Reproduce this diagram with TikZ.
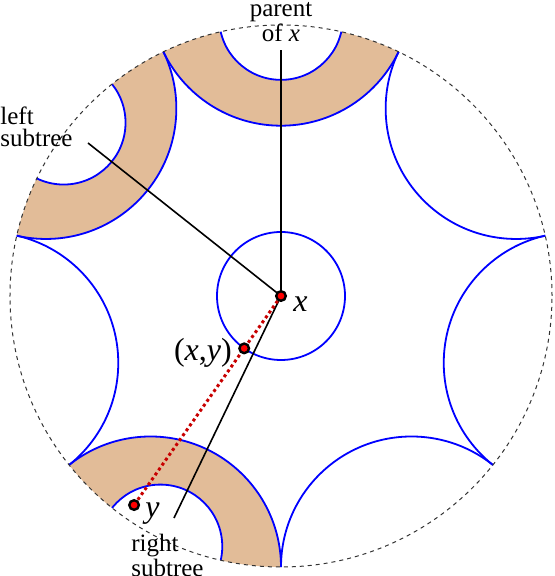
\documentclass[tikz,border=0pt]{standalone}
\usepackage{fontspec}
\setmainfont{Liberation Serif}
\usetikzlibrary{positioning}
\definecolor{band}{RGB}{226,188,152}
\definecolor{dotred}{RGB}{200,0,0}
\newcommand{\diskR}{271}
\begin{document}
\begin{tikzpicture}[x=0.5pt,y=0.5pt,
  geo/.style={blue,line width=0.9pt},
  pt/.style={circle,draw,fill=red,line width=1.2pt,inner sep=0pt,minimum size=4.8pt},
  lbl/.style={font=\fontsize{12.5}{11}\selectfont,align=left,inner sep=0pt},
  mlbl/.style={font=\fontsize{16}{18}\selectfont,inner sep=0pt}]
\useasboundingbox (-281,-280) rectangle (273,296);
% bands and geodesics of the heptagon
\begin{scope}
\clip (0,0) circle (\diskR);
\foreach \a in {90,141.43,244.29}
  \fill[band,even odd rule] (\a:{\diskR/cos(25.714)}) circle ({\diskR*tan(25.714)})
    (\a:{\diskR/cos(12.857)}) circle ({\diskR*tan(12.857)});
\foreach \k in {0,...,6}
  \draw[geo] ({90+51.4286*\k}:{\diskR/cos(25.714)}) circle ({\diskR*tan(25.714)});
\foreach \a in {90,141.43,244.29}
  \draw[geo] (\a:{\diskR/cos(12.857)}) circle ({\diskR*tan(12.857)});
\end{scope}
\draw[geo] (0,0) circle (64);
\draw[black!80,line width=0.5pt,dash pattern=on 2pt off 2pt] (0,0) circle (\diskR);
% points and pointers
\coordinate (xc) at (0,0);
\coordinate (yc) at (234.9:255.5);
\coordinate (xyc) at (234.9:64);
\coordinate (pe) at (0,246);
\coordinate (le) at (-193,153);
\coordinate (re) at (-107,-222);
\draw[line width=0.8pt] (xc)--(pe);\draw[line width=0.8pt] (xc)--(le);\draw[line width=0.8pt] (xc)--(re);
\draw[dotred,line width=1.5pt,dash pattern=on 1.5pt off 1.5pt] (xc)--(yc);
\node[pt] (x) at (xc) {};
\node[pt] (xy) at (xyc) {};
\node[pt] (y) at (yc) {};
\node[mlbl,anchor=base west] (xl) at ([shift={(12,-16)}]x.center) {\textit{x}};
\node[mlbl,anchor=base east] (xyl) at ([shift={(-12,-12)}]xy.center) {(\textit{x},\textit{y})};
\node[mlbl,anchor=base west] (yl) at ([shift={(11,-12)}]y.center) {\textit{y}};
\node[lbl,align=center,anchor=north] (par) at (0,294) {parent\\of \textit{x}};
\node[lbl,anchor=north west] (lt) at (-281,189) {left\\subtree};
\node[lbl,anchor=north west] (rt) at (-150,-238) {right\\subtree};
\end{tikzpicture}
\end{document}
